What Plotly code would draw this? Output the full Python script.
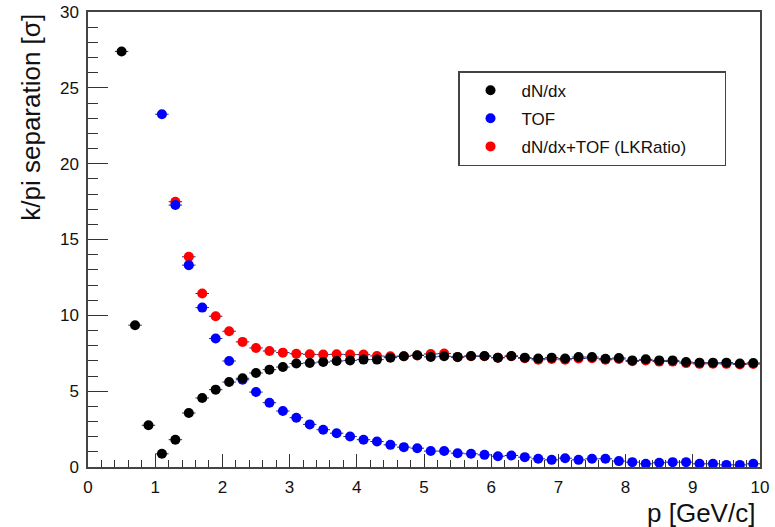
import plotly.graph_objects as go

# momentum bins [GeV/c]
p_dndx = [0.5, 0.7, 0.9, 1.1, 1.3, 1.5, 1.7, 1.9, 2.1, 2.3, 2.5, 2.7, 2.9, 3.1, 3.3, 3.5,
          3.7, 3.9, 4.1, 4.3, 4.5, 4.7, 4.9, 5.1, 5.3, 5.5, 5.7, 5.9, 6.1, 6.3, 6.5, 6.7,
          6.9, 7.1, 7.3, 7.5, 7.7, 7.9, 8.1, 8.3, 8.5, 8.7, 8.9, 9.1, 9.3, 9.5, 9.7, 9.9]
sep_dndx = [27.40, 9.35, 2.75, 0.87, 1.80, 3.56, 4.55, 5.10, 5.60, 5.85, 6.20, 6.42, 6.59, 6.82,
            6.86, 6.92, 6.99, 7.03, 7.08, 7.08, 7.21, 7.30, 7.37, 7.26, 7.30, 7.26, 7.32, 7.32,
            7.21, 7.32, 7.21, 7.15, 7.21, 7.15, 7.25, 7.25, 7.14, 7.19, 7.03, 7.10, 7.03, 7.03,
            6.92, 6.88, 6.88, 6.88, 6.82, 6.86]

p_tof = [1.1, 1.3, 1.5, 1.7, 1.9, 2.1, 2.3, 2.5, 2.7, 2.9, 3.1, 3.3, 3.5, 3.7, 3.9, 4.1,
         4.3, 4.5, 4.7, 4.9, 5.1, 5.3, 5.5, 5.7, 5.9, 6.1, 6.3, 6.5, 6.7, 6.9, 7.1, 7.3,
         7.5, 7.7, 7.9, 8.1, 8.3, 8.5, 8.7, 8.9, 9.1, 9.3, 9.5, 9.7, 9.9]
sep_tof = [23.26, 17.27, 13.31, 10.51, 8.47, 6.99, 5.75, 4.94, 4.24, 3.69, 3.25, 2.81, 2.46, 2.23,
           2.01, 1.80, 1.68, 1.46, 1.31, 1.24, 1.05, 1.05, 0.91, 0.87, 0.80, 0.71, 0.76, 0.65,
           0.54, 0.47, 0.58, 0.47, 0.54, 0.54, 0.39, 0.32, 0.21, 0.28, 0.32, 0.32, 0.21, 0.21,
           0.14, 0.14, 0.21]

p_lk = [1.3, 1.5, 1.7, 1.9, 2.1, 2.3, 2.5, 2.7, 2.9, 3.1, 3.3, 3.5, 3.7, 3.9, 4.1, 4.3,
        4.5, 4.7, 4.9, 5.1, 5.3, 5.5, 5.7, 5.9, 6.1, 6.3, 6.5, 6.7, 6.9, 7.1, 7.3, 7.5,
        7.7, 7.9, 8.1, 8.3, 8.5, 8.7, 8.9, 9.1, 9.3, 9.5, 9.7, 9.9]
sep_lk = [17.49, 13.86, 11.44, 9.94, 8.95, 8.25, 7.85, 7.65, 7.54, 7.47, 7.43, 7.41, 7.43, 7.41,
          7.41, 7.32, 7.30, 7.30, 7.35, 7.45, 7.48, 7.24, 7.30, 7.30, 7.20, 7.30, 7.17, 7.07,
          7.12, 7.07, 7.15, 7.17, 7.07, 7.12, 6.97, 7.03, 6.95, 6.95, 6.85, 6.80, 6.81, 6.80,
          6.76, 6.79]

FONT = "Liberation Sans, Arial, Helvetica, sans-serif"
err = dict(type="constant", value=0.1, color="#262673", thickness=1, width=0)
PAD = "\u00a0" * 7

fig = go.Figure()
fig.add_trace(go.Scatter(x=p_lk, y=sep_lk, mode="markers", name="dN/dx+TOF (LKRatio)" + PAD,
                         marker=dict(color="#ff0000", size=10), error_x=err,
                         legendrank=3, legendgroup="c"))
fig.add_trace(go.Scatter(x=p_tof, y=sep_tof, mode="markers", name="TOF",
                         marker=dict(color="#0000ff", size=10), error_x=err,
                         legendrank=2, legendgroup="b"))
fig.add_trace(go.Scatter(x=p_dndx, y=sep_dndx, mode="markers", name="dN/dx",
                         marker=dict(color="#000000", size=10), error_x=err,
                         legendrank=1, legendgroup="a"))

axis_common = dict(showgrid=False, zeroline=False, showline=True, linecolor="#444444",
                   linewidth=1.5, mirror=True, ticks="inside", tickcolor="#333333",
                   tickwidth=1.2, automargin=False,
                   tickfont=dict(family=FONT, size=17, color="#111111"))

fig.update_layout(
    width=775, height=527,
    margin=dict(l=88, r=15, t=12, b=60),
    paper_bgcolor="white", plot_bgcolor="white",
    font=dict(family=FONT, color="#111111"),
    xaxis=dict(range=[0, 10], dtick=1, tick0=0, ticklen=13, ticklabelstandoff=4,
               minor=dict(dtick=0.2, ticklen=7, ticks="inside", tickcolor="#333333", tickwidth=1.2),
               **axis_common),
    yaxis=dict(range=[0, 30], dtick=5, tick0=0, ticklen=20, ticklabelstandoff=4,
               minor=dict(dtick=1, ticklen=10, ticks="inside", tickcolor="#333333", tickwidth=1.2),
               **axis_common),
    legend=dict(x=0.5506, y=0.870, xanchor="left", yanchor="top",
                bgcolor="white", bordercolor="#444444", borderwidth=1.5,
                font=dict(family=FONT, size=17, color="#111111"),
                itemwidth=52, tracegroupgap=3),
    showlegend=True,
    annotations=[
        dict(text="k/pi separation [σ]", xref="paper", yref="paper",
             x=-0.086, y=1.0, xanchor="center", yanchor="top", textangle=-90,
             showarrow=False, font=dict(family=FONT, size=26, color="#111111")),
        dict(text="p [GeV/c]", xref="paper", yref="paper",
             x=0.9955, y=-0.10, xanchor="right", yanchor="middle",
             showarrow=False, font=dict(family=FONT, size=26, color="#111111")),
    ],
)

fig.write_html("out.html")
